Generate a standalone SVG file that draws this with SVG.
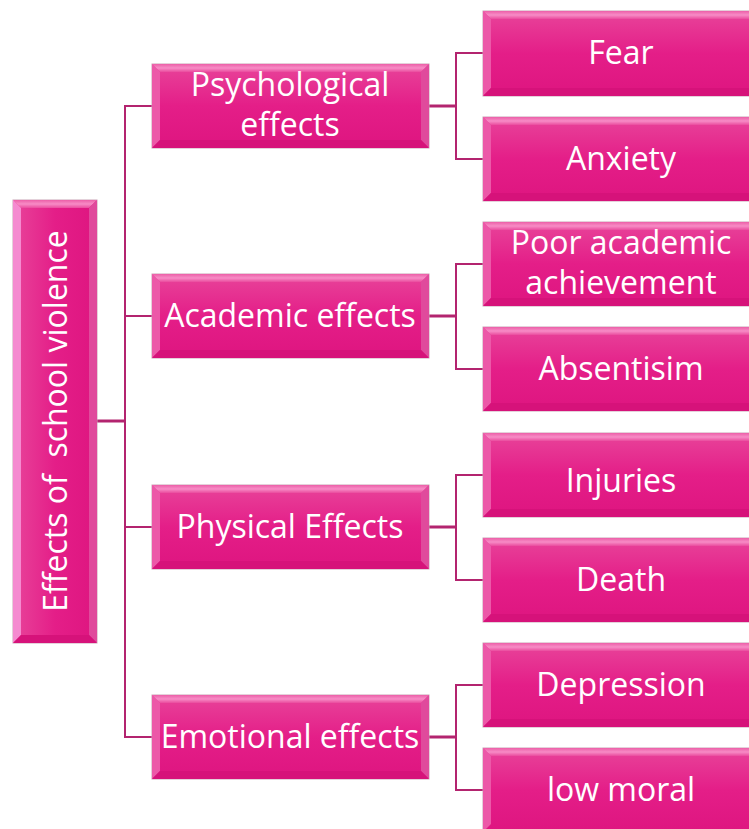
<svg xmlns="http://www.w3.org/2000/svg" width="749" height="829" viewBox="0 0 749 829">
  <defs>
    <linearGradient id="face" x1="0" y1="0" x2="0" y2="1">
      <stop offset="0" stop-color="#E8449A"/>
      <stop offset="0.5" stop-color="#E41E88"/>
      <stop offset="1" stop-color="#DE1580"/>
    </linearGradient>
    <linearGradient id="faceH" x1="0" y1="0" x2="1" y2="0">
      <stop offset="0" stop-color="#E8449A"/>
      <stop offset="0.5" stop-color="#E41E88"/>
      <stop offset="1" stop-color="#DE1580"/>
    </linearGradient>
    <linearGradient id="topBevel" x1="0" y1="0" x2="0" y2="1">
      <stop offset="0" stop-color="#EC5FA8"/>
      <stop offset="0.5" stop-color="#F78CC6"/>
      <stop offset="1" stop-color="#EA4C9E"/>
    </linearGradient>
  </defs>
  <style>
    .box { fill: url(#face); stroke: #C9A3B6; stroke-width: 1; }
    .top { fill: url(#topBevel); }
    .left { fill: #EC58A8; }
    .right { fill: #E04A9C; }
    .bottom { fill: #D6127A; }
    .lbl { fill: #FFFFFF; font-family: "Open Sans", "Noto Sans", "Liberation Sans", sans-serif; font-size: 32px; text-anchor: middle; }
    .conn { fill: none; stroke: #B3246F; stroke-width: 2; }
    .conn2 { fill: none; stroke: #B3246F; stroke-width: 3; }
  </style>

  <!-- connectors -->
  <g id="connectors">
    <path class="conn2" d="M97,421 H125"/>
    <path class="conn" d="M125,105 V738"/>
    <path class="conn" d="M124,106 H152 M124,316 H152 M124,527 H152 M124,737 H152"/>
    <path class="conn2" d="M429,106 H456 M429,316 H456 M429,527 H456 M429,737 H456"/>
    <path class="conn" d="M456,53 V159 M455,53 H483 M455,159 H483"/>
    <path class="conn" d="M456,264 V369 M455,264 H483 M455,369 H483"/>
    <path class="conn" d="M456,475 V580 M455,475 H483 M455,580 H483"/>
    <path class="conn" d="M456,685 V790 M455,685 H483 M455,790 H483"/>
  </g>

  <!-- root -->
  <g id="root">
    <rect class="box" x="13" y="200" width="84" height="443" style="fill:url(#faceH)"/>
    <polygon class="top" points="13,200 97,200 89,208 21,208"/>
    <polygon class="left" points="13,200 21,208 21,635 13,643" style="fill:#F58AD0"/>
    <polygon class="right" points="97,200 97,643 89,635 89,208"/>
    <polygon class="bottom" points="13,643 97,643 89,635 21,635"/>
    <text class="lbl" transform="translate(67,421) rotate(-90)" xml:space="preserve">Effects of  school violence</text>
  </g>

  <!-- level 2 -->
  <g id="psychological">
    <rect class="box" x="152" y="64" width="277" height="84"/>
    <polygon class="top" points="152,64 429,64 421,72 160,72"/>
    <polygon class="left" points="152,64 160,72 160,140 152,148"/>
    <polygon class="right" points="429,64 429,148 421,140 421,72"/>
    <polygon class="bottom" points="152,148 429,148 421,140 160,140"/>
    <text class="lbl" x="290" y="96">Psychological</text>
    <text class="lbl" x="290" y="136">effects</text>
  </g>
  <g id="academic">
    <rect class="box" x="152" y="274" width="277" height="84"/>
    <polygon class="top" points="152,274 429,274 421,282 160,282"/>
    <polygon class="left" points="152,274 160,282 160,350 152,358"/>
    <polygon class="right" points="429,274 429,358 421,350 421,282"/>
    <polygon class="bottom" points="152,358 429,358 421,350 160,350"/>
    <text class="lbl" x="290" y="327">Academic effects</text>
  </g>
  <g id="physical">
    <rect class="box" x="152" y="485" width="277" height="84"/>
    <polygon class="top" points="152,485 429,485 421,493 160,493"/>
    <polygon class="left" points="152,485 160,493 160,561 152,569"/>
    <polygon class="right" points="429,485 429,569 421,561 421,493"/>
    <polygon class="bottom" points="152,569 429,569 421,561 160,561"/>
    <text class="lbl" x="290" y="538">Physical Effects</text>
  </g>
  <g id="emotional">
    <rect class="box" x="152" y="695" width="277" height="84"/>
    <polygon class="top" points="152,695 429,695 421,703 160,703"/>
    <polygon class="left" points="152,695 160,703 160,771 152,779"/>
    <polygon class="right" points="429,695 429,779 421,771 421,703"/>
    <polygon class="bottom" points="152,779 429,779 421,771 160,771"/>
    <text class="lbl" x="290" y="748">Emotional effects</text>
  </g>

  <!-- leaves -->
  <g id="fear">
    <rect class="box" x="483" y="11" width="280" height="85"/>
    <polygon class="top" points="483,11 763,11 755,19 491,19"/>
    <polygon class="left" points="483,11 491,19 491,88 483,96"/>
    <polygon class="bottom" points="483,96 763,96 755,88 491,88"/>
    <text class="lbl" x="621" y="64">Fear</text>
  </g>
  <g id="anxiety">
    <rect class="box" x="483" y="117" width="280" height="84"/>
    <polygon class="top" points="483,117 763,117 755,125 491,125"/>
    <polygon class="left" points="483,117 491,125 491,193 483,201"/>
    <polygon class="bottom" points="483,201 763,201 755,193 491,193"/>
    <text class="lbl" x="621" y="170">Anxiety</text>
  </g>
  <g id="poor-academic">
    <rect class="box" x="483" y="222" width="280" height="84"/>
    <polygon class="top" points="483,222 763,222 755,230 491,230"/>
    <polygon class="left" points="483,222 491,230 491,298 483,306"/>
    <polygon class="bottom" points="483,306 763,306 755,298 491,298"/>
    <text class="lbl" x="621" y="254">Poor academic</text>
    <text class="lbl" x="621" y="294">achievement</text>
  </g>
  <g id="absentisim">
    <rect class="box" x="483" y="327" width="280" height="84"/>
    <polygon class="top" points="483,327 763,327 755,335 491,335"/>
    <polygon class="left" points="483,327 491,335 491,403 483,411"/>
    <polygon class="bottom" points="483,411 763,411 755,403 491,403"/>
    <text class="lbl" x="621" y="380">Absentisim</text>
  </g>
  <g id="injuries">
    <rect class="box" x="483" y="433" width="280" height="84"/>
    <polygon class="top" points="483,433 763,433 755,441 491,441"/>
    <polygon class="left" points="483,433 491,441 491,509 483,517"/>
    <polygon class="bottom" points="483,517 763,517 755,509 491,509"/>
    <text class="lbl" x="621" y="492">Injuries</text>
  </g>
  <g id="death">
    <rect class="box" x="483" y="538" width="280" height="84"/>
    <polygon class="top" points="483,538 763,538 755,546 491,546"/>
    <polygon class="left" points="483,538 491,546 491,614 483,622"/>
    <polygon class="bottom" points="483,622 763,622 755,614 491,614"/>
    <text class="lbl" x="621" y="591">Death</text>
  </g>
  <g id="depression">
    <rect class="box" x="483" y="643" width="280" height="84"/>
    <polygon class="top" points="483,643 763,643 755,651 491,651"/>
    <polygon class="left" points="483,643 491,651 491,719 483,727"/>
    <polygon class="bottom" points="483,727 763,727 755,719 491,719"/>
    <text class="lbl" x="621" y="696">Depression</text>
  </g>
  <g id="low-moral">
    <rect class="box" x="483" y="748" width="280" height="84"/>
    <polygon class="top" points="483,748 763,748 755,756 491,756"/>
    <polygon class="left" points="483,748 491,756 491,824 483,832"/>
    <text class="lbl" x="621" y="801">low moral</text>
  </g>
</svg>
